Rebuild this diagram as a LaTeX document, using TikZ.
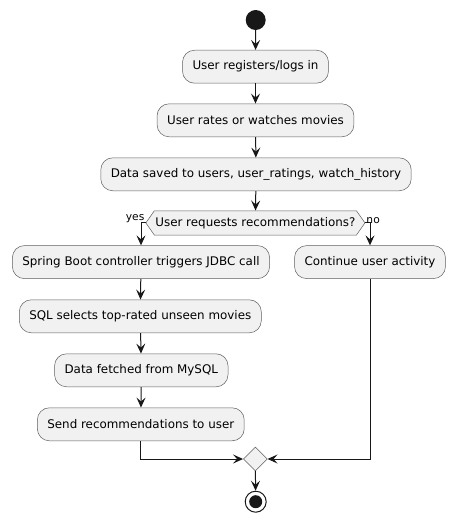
\documentclass[tikz,border=0pt]{standalone}
\usepackage{fontspec}
\setmainfont{DejaVu Sans}
\usetikzlibrary{arrows.meta,shapes.geometric,shapes.symbols}
\definecolor{boxfill}{HTML}{F1F1F1}
\definecolor{ink}{HTML}{181818}
\begin{document}
\begin{tikzpicture}[x=1pt,y=-1pt,
  act/.style={draw=ink!70,line width=0.5pt,fill=boxfill,rounded corners=12pt,
    minimum height=33pt,inner xsep=10pt,font=\fontsize{11.9}{14}\selectfont,text=black},
  flow/.style={draw=ink,line width=1pt,-{Stealth[length=10pt,width=9pt,inset=4pt]}},
  lbl/.style={font=\fontsize{10.7}{12}\selectfont,inner sep=0.5pt,text=black}]
\useasboundingbox (0,0) rectangle (456,523);
\node[circle,fill=ink,minimum size=20pt,inner sep=0] (start) at (255.7,20) {};
\node[act] (b1) at (255.5,66.7) {User registers/logs in};
\node[act] (b2) at (255.5,120.3) {User rates or watches movies};
\node[act] (b3) at (256,174.3) {Data saved to users, user\_ratings, watch\_history};
\node[signal,signal to=east and west,signal pointer angle=110,draw=ink!70,line width=0.5pt,
  fill=boxfill,minimum height=24.3pt,inner xsep=1pt,inner ysep=0pt,font=\fontsize{11.9}{14}\selectfont] (dec) at (255.4,222.9) {User requests recommendations?};
\node[act] (spring) at (141,262.1) {Spring Boot controller triggers JDBC call};
\node[act] (cont) at (370,262.1) {Continue user activity};
\node[act] (sql) at (140.3,316.3) {SQL selects top-rated unseen movies};
\node[act] (fetch) at (141.3,370.3) {Data fetched from MySQL};
\node[act] (send) at (140.8,424.3) {Send recommendations to user};
\node[diamond,draw=ink!70,line width=0.5pt,fill=boxfill,minimum width=24pt,minimum height=24pt,inner sep=0] (merge) at (255.3,459) {};
\node[circle,draw=ink,line width=1pt,fill=white,minimum size=21pt,inner sep=0] (end) at (255.7,501.7) {};
\node[circle,fill=ink,minimum size=13pt,inner sep=0] at (end.center) {};

\draw[flow] (start) -- (b1);
\draw[flow] (b1) -- (b2);
\draw[flow] (b2) -- (b3);
\draw[flow] (b3) -- (dec);
\draw[flow] (dec.west) -| (spring.north);
\draw[flow] (dec.east) -| (cont.north);
\node[lbl,anchor=south east] (yes) at ([xshift=-0.5pt,yshift=-1pt]dec.west) {yes};
\node[lbl,anchor=south west] (no) at ([xshift=0.5pt,yshift=-1pt]dec.east) {no};
\draw[flow] (spring) -- (sql);
\draw[flow] (sql) -- (fetch);
\draw[flow] (fetch) -- (send);
\draw[flow] (send.south) |- (merge.west);
\draw[flow] (cont.south) |- (merge.east);
\draw[flow] (merge) -- (end);
\end{tikzpicture}
\end{document}
